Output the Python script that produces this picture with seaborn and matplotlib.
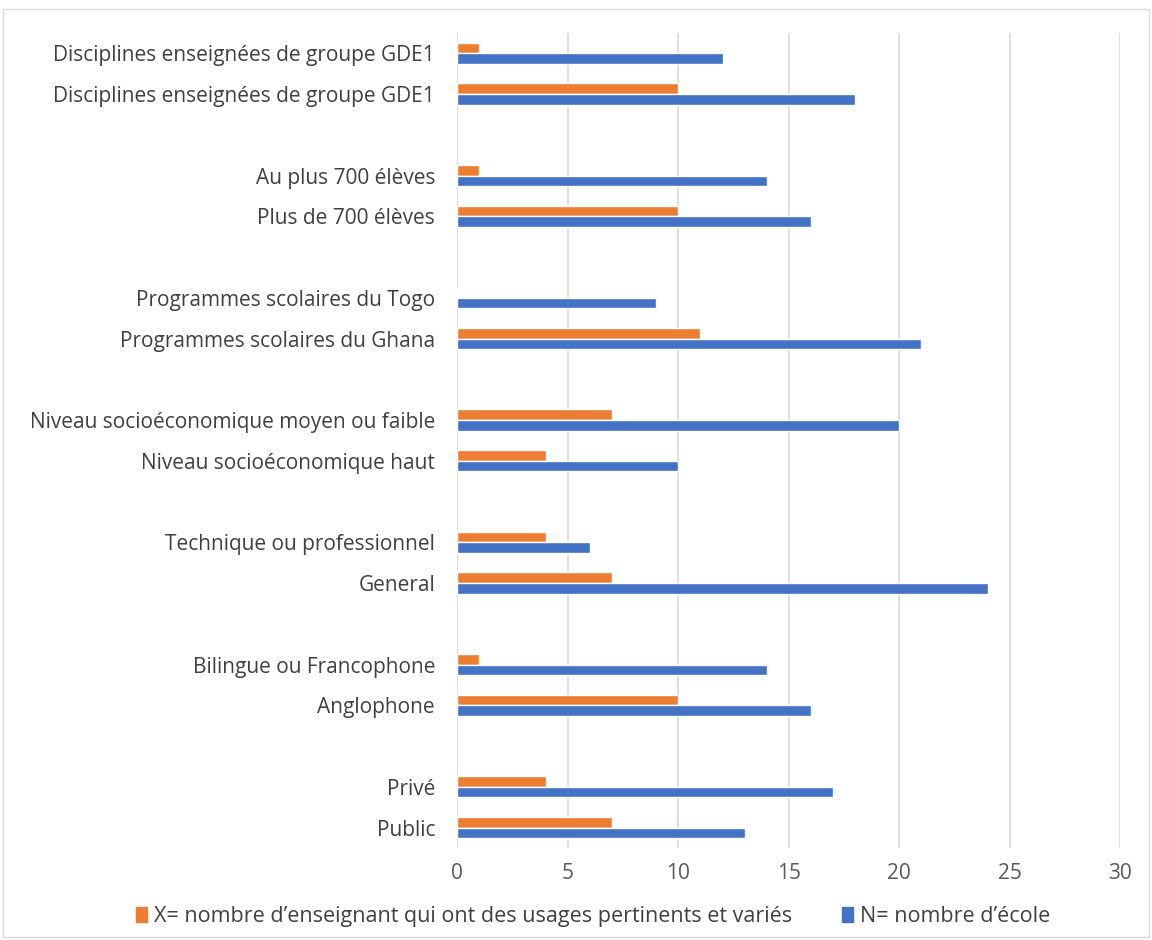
import matplotlib.pyplot as plt
import matplotlib.patches as mpatches
import seaborn as sns
import pandas as pd
import numpy as np

plt.switch_backend("Agg")

# categories top-to-bottom; blank strings are spacer rows
categories = [
    "Disciplines enseignées de groupe GDE1",
    "Disciplines enseignées de groupe GDE1 ",
    " ",
    "Au plus 700 élèves",
    "Plus de 700 élèves",
    "  ",
    "Programmes scolaires du Togo",
    "Programmes scolaires du Ghana",
    "   ",
    "Niveau socioéconomique moyen ou faible",
    "Niveau socioéconomique haut",
    "    ",
    "Technique ou professionnel",
    "General",
    "     ",
    "Bilingue ou Francophone",
    "Anglophone",
    "      ",
    "Privé",
    "Public",
]
x_values = [1, 10, np.nan, 1, 10, np.nan, 0, 11, np.nan, 7, 4, np.nan, 4, 7, np.nan, 1, 10, np.nan, 4, 7]
n_values = [12, 18, np.nan, 14, 16, np.nan, 9, 21, np.nan, 20, 10, np.nan, 6, 24, np.nan, 14, 16, np.nan, 17, 13]

series = ["X= nombre d\u2019enseignant qui ont des usages pertinents et variés",
          "N= nombre d\u2019école"]
colors = ["#ED7D31", "#4472C4"]

df = pd.concat([
    pd.DataFrame({"Catégorie": categories, "Valeur": x_values, "Série": series[0]}),
    pd.DataFrame({"Catégorie": categories, "Valeur": n_values, "Série": series[1]}),
], ignore_index=True)

sns.set_style("white")
plt.rcParams["font.family"] = ["Open Sans", "DejaVu Sans"]

fig = plt.figure(figsize=(11.52, 9.4), dpi=100)
ax = fig.add_axes([0.397, 0.098, 0.5755, 0.867])

sns.barplot(data=df, y="Catégorie", x="Valeur", hue="Série", order=categories,
            hue_order=series, palette=colors, orient="h", width=0.52,
            errorbar=None, saturation=1, ax=ax, legend=False)

ax.set_xlim(0, 30)
ax.set_xticks(range(0, 31, 5))
ax.set_yticks(range(len(categories)), [c.strip() for c in categories])
ax.set_ylim(len(categories) - 0.5, -0.5)
ax.xaxis.grid(True, color="#d9d9d9", linewidth=1.2)
ax.set_axisbelow(True)
for s in ax.spines.values():
    s.set_visible(False)
ax.tick_params(axis="both", length=0, labelsize=15, colors="#404040")
ax.tick_params(axis="x", pad=11, colors="#595959")
ax.tick_params(axis="y", pad=16)
ax.set_xlabel("")
ax.set_ylabel("")

# chart border
fig.patches.append(mpatches.Rectangle((0.003, 0.003), 0.994, 0.987, transform=fig.transFigure,
                                      fill=False, edgecolor="#d9d9d9", linewidth=1))

handles = [mpatches.Patch(color=c, label=l) for c, l in zip(colors, series)]
fig.legend(handles=handles, loc="center", bbox_to_anchor=(0.515, 0.025), ncol=2,
           frameon=False, fontsize=15.5, handlelength=0.5, handleheight=0.7,
           handletextpad=0.35, columnspacing=2.3, labelcolor="#404040")

fig.savefig("out.png", dpi=100)
plt.close(fig)
